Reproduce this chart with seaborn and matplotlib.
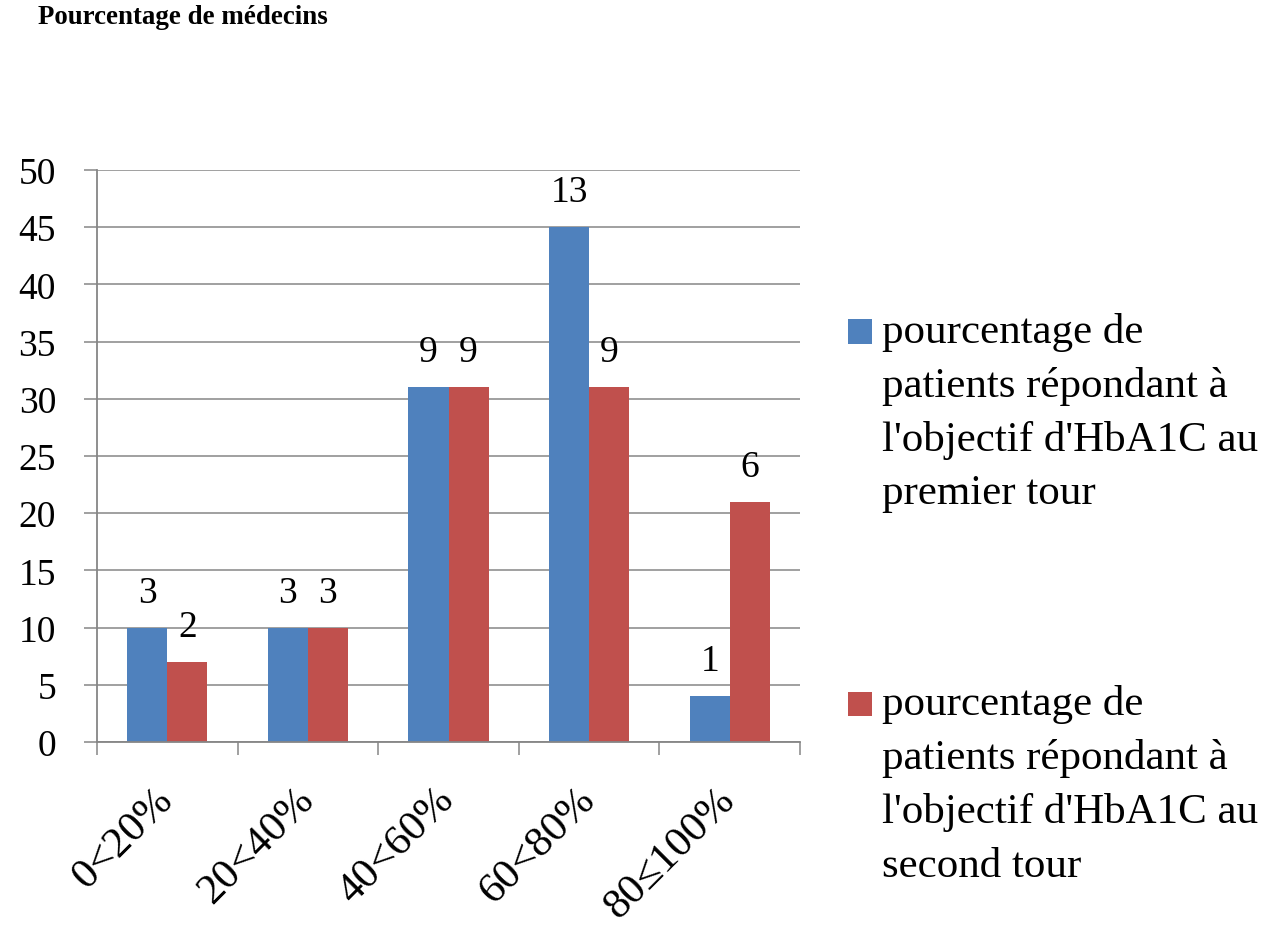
import matplotlib
matplotlib.use("Agg")
import matplotlib.pyplot as plt
import pandas as pd
import seaborn as sns
from matplotlib.patches import Rectangle, Patch
from matplotlib.legend_handler import HandlerBase

# Tranches de pourcentage de patients à l'objectif
tranches = ["0<20%", "20<40%", "40<60%", "60<80%", "80≤100%"]
# Pourcentage de médecins dans chaque tranche
pct_tour1 = [10, 10, 31, 45, 4]
pct_tour2 = [7, 10, 31, 31, 21]
# Nombre de médecins (étiquettes des barres)
n_tour1 = [3, 3, 9, 13, 1]
n_tour2 = [2, 3, 9, 9, 6]
series = [
    "pourcentage de\npatients répondant à\nl'objectif d'HbA1C au\npremier tour",
    "pourcentage de\npatients répondant à\nl'objectif d'HbA1C au\nsecond tour",
]
couleurs = ["#4F81BD", "#C0504D"]
gris = "#868686"

df = pd.DataFrame({
    "tranche": tranches * 2,
    "pct": pct_tour1 + pct_tour2,
    "tour": [series[0]] * len(tranches) + [series[1]] * len(tranches),
})

sns.set_theme(style="white")
plt.rcParams["font.family"] = ["Liberation Serif", "DejaVu Serif"]
plt.rcParams["text.color"] = "black"

W, H = 1275, 928
fig = plt.figure(figsize=(W / 100, H / 100), dpi=100)
ax = fig.add_axes([97 / W, 1 - 743 / H, (800 - 97) / W, (743 - 171) / H])

sns.barplot(data=df, x="tranche", y="pct", hue="tour", order=tranches,
            hue_order=series, palette=couleurs, width=0.57, linewidth=0,
            saturation=1, legend=False, ax=ax)

for cont, labels in zip(ax.containers, [n_tour1, n_tour2]):
    ax.bar_label(cont, labels=[str(v) for v in labels], padding=13,
                 fontsize=27, color="black")

ax.set_ylim(0, 50)
ax.set_xlim(-0.5, len(tranches) - 0.5)
ax.set_yticks(range(0, 51, 5))
ax.set_xlabel("")
ax.set_ylabel("")
ax.set_axisbelow(True)
ax.yaxis.grid(True, color=gris, linewidth=1.1)
ax.xaxis.grid(False)

for side in ["top", "right"]:
    ax.spines[side].set_visible(False)
for side in ["left", "bottom"]:
    ax.spines[side].set_color(gris)
    ax.spines[side].set_linewidth(1.3)

ax.tick_params(axis="y", which="major", direction="out", length=9.5,
               width=1.1, color=gris, pad=20, labelsize=27, left=True,
               labelcolor="black")
ax.tick_params(axis="x", which="major", length=0, pad=37, labelsize=31,
               labelcolor="black")
ax.set_xticks([i - 0.5 for i in range(len(tranches) + 1)], minor=True)
ax.tick_params(axis="x", which="minor", direction="out", length=9,
               width=1.1, color=gris, bottom=True)
for lab in ax.get_xticklabels():
    lab.set_rotation(45)
    lab.set_ha("right")
    lab.set_va("center")
    lab.set_rotation_mode("anchor")


class TopSquare(HandlerBase):
    """Legend key drawn as a square level with the first text line."""

    def __init__(self, lift, **kw):
        super().__init__(**kw)
        self.lift = lift

    def create_artists(self, legend, orig_handle, xdescent, ydescent,
                       width, height, fontsize, trans):
        side = width
        rect = Rectangle((-xdescent, self.lift - ydescent), side, side,
                         facecolor=orig_handle.get_facecolor(),
                         edgecolor="none", transform=trans)
        return [rect]


leg_fs = 31
handles = [Patch(facecolor=c) for c in couleurs]
leg = fig.legend(handles, series, loc="upper left",
                 bbox_to_anchor=(848 / W, 1 - 313 / H),
                 frameon=False, fontsize=leg_fs, handlelength=0.56,
                 handletextpad=0.23, borderpad=0, borderaxespad=0,
                 labelspacing=4.0, labelcolor="black",
                 handler_map={Patch: TopSquare(lift=60)})
for t in leg.get_texts():
    t.set_linespacing(1.5)

fig.text(38 / W, 1 - 18 / H, "Pourcentage de médecins", fontsize=19.4,
         fontweight="bold", ha="left", va="center", color="black")

fig.savefig("out.png", dpi=100)
